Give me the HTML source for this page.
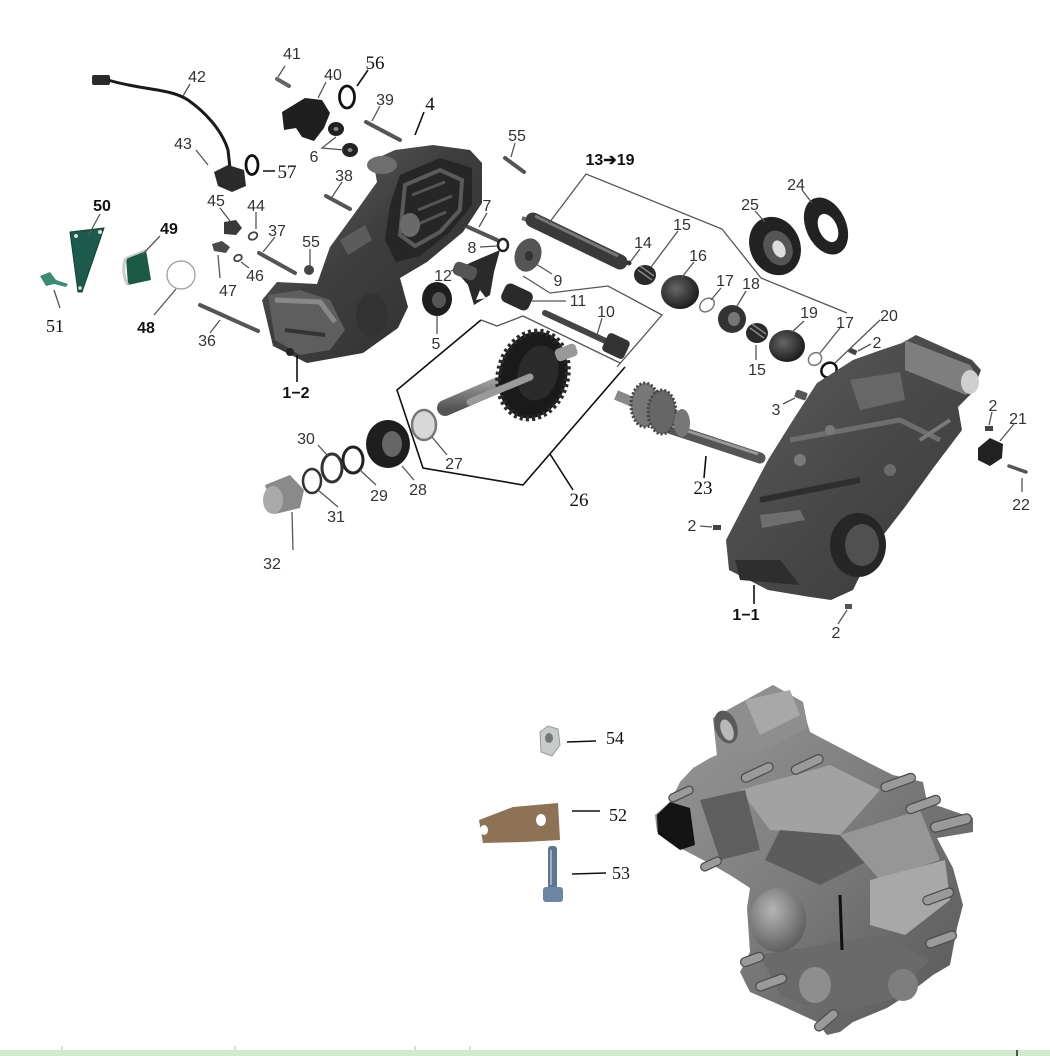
<!DOCTYPE html>
<html><head><meta charset="utf-8">
<style>
html,body{margin:0;padding:0;background:#fff;}
body{width:1050px;height:1056px;overflow:hidden;position:relative;}
svg{position:absolute;left:0;top:0;}
text{font-family:"Liberation Sans",sans-serif;font-size:16px;fill:#333;text-anchor:middle;}
.b{fill:#111;font-family:"Liberation Serif",serif;font-size:19px;}
.bb{fill:#111;font-weight:bold;font-size:16px;}
.ld{stroke:#555;stroke-width:1.3;fill:none;}
.lk{stroke:#111;stroke-width:1.6;fill:none;}
</style></head>
<body>
<svg width="1050" height="1056" viewBox="0 0 1050 1056" xmlns="http://www.w3.org/2000/svg">
<defs>
<linearGradient id="metal" x1="0" y1="0" x2="1" y2="1">
<stop offset="0" stop-color="#6a6a6a"/><stop offset="0.45" stop-color="#3e3e3e"/><stop offset="1" stop-color="#2e2e2e"/></linearGradient>
<linearGradient id="case1" x1="0" y1="0" x2="1" y2="1">
<stop offset="0" stop-color="#5e5e5e"/><stop offset="0.5" stop-color="#484848"/><stop offset="1" stop-color="#383838"/></linearGradient>
<linearGradient id="asm" x1="0" y1="0" x2="1" y2="1">
<stop offset="0" stop-color="#9a9a9a"/><stop offset="0.5" stop-color="#7c7c7c"/><stop offset="1" stop-color="#555"/></linearGradient>
<linearGradient id="shaft" x1="0" y1="0" x2="0" y2="1">
<stop offset="0" stop-color="#bbb"/><stop offset="0.5" stop-color="#888"/><stop offset="1" stop-color="#555"/></linearGradient>
<radialGradient id="disc" cx="0.4" cy="0.4" r="0.6">
<stop offset="0" stop-color="#666"/><stop offset="1" stop-color="#1e1e1e"/></radialGradient>
<radialGradient id="boss" cx="0.4" cy="0.35" r="0.7">
<stop offset="0" stop-color="#b5b5b5"/><stop offset="1" stop-color="#5a5a5a"/></radialGradient>
</defs>

<rect x="0" y="1050" width="1050" height="6" fill="#d3ead1"/>
<path d="M62,1046V1050M235,1046V1050M415,1046V1050M470,1046V1050" stroke="#bbb"/>
<line x1="1017" y1="1050" x2="1017" y2="1056" stroke="#222" stroke-width="1.5"/>

<!-- wire 42 and sensor -->
<rect x="92" y="75" width="18" height="10" rx="2" fill="#2a2a2a"/>
<path d="M108,80 C140,90 170,88 188,100 C205,112 222,130 228,150 L230,168" stroke="#1a1a1a" stroke-width="3" fill="none"/>
<path d="M214,172 L228,165 L244,170 L246,186 L232,192 L218,186 Z" fill="#2a2a2a"/>
<line x1="277" y1="79" x2="289" y2="86" stroke="#666" stroke-width="4" stroke-linecap="round"/>
<path d="M282,112 L305,98 L322,100 L330,113 L324,128 L314,141 L302,137 L296,128 L284,130 Z" fill="#1f1f1f"/>
<ellipse cx="347" cy="97" rx="7.5" ry="11" fill="none" stroke="#111" stroke-width="2.8"/>
<ellipse cx="252" cy="165" rx="6" ry="9.5" fill="none" stroke="#111" stroke-width="2.8"/>
<ellipse cx="336" cy="129" rx="8" ry="7" fill="#222"/><ellipse cx="336" cy="129" rx="2.5" ry="2" fill="#888"/>
<ellipse cx="350" cy="150" rx="8" ry="7" fill="#222"/><ellipse cx="350" cy="150" rx="2.5" ry="2" fill="#888"/>
<g stroke="#555" stroke-width="4" stroke-linecap="round">
<line x1="366" y1="122" x2="400" y2="140"/>
<line x1="326" y1="196" x2="350" y2="209"/>
<line x1="259" y1="253" x2="295" y2="273"/>
<line x1="200" y1="305" x2="258" y2="331"/>
<line x1="505" y1="158" x2="524" y2="172"/>
<line x1="468" y1="227" x2="497" y2="240"/>
</g>
<ellipse cx="309" cy="270" rx="5" ry="5" fill="#444"/>
<path d="M224,222 L236,220 L242,228 L236,235 L224,234 Z" fill="#3a3a3a"/>
<path d="M212,244 L222,241 L230,247 L226,253 L214,251 Z" fill="#4a4a4a"/>
<ellipse cx="253" cy="236" rx="4.5" ry="3.5" fill="none" stroke="#444" stroke-width="1.8" transform="rotate(-30 253 236)"/>
<ellipse cx="238" cy="258" rx="4" ry="3" fill="none" stroke="#444" stroke-width="1.8" transform="rotate(-30 238 258)"/>
<!-- 50 49 48 51 -->
<path d="M70,232 L104,228 L82,292 L78,292 Z" fill="#1c5b4c" stroke="#144035" stroke-width="1"/>
<circle cx="76" cy="236" r="2" fill="#ddd"/><circle cx="100" cy="232" r="2" fill="#ddd"/><circle cx="80" cy="288" r="1.8" fill="#ddd"/>
<path d="M126,258 L146,250 L151,280 L128,285 Z" fill="#1a5a44"/>
<path d="M126,258 C122,266 124,280 128,285" stroke="#ccc" stroke-width="3" fill="none"/>
<path d="M126,258 L146,250" stroke="#ccc" stroke-width="2"/>
<circle cx="181" cy="275" r="14" fill="none" stroke="#999" stroke-width="1.2"/>
<path d="M40,276 L50,272 L56,280 L68,284 L66,287 L54,284 L46,286 Z" fill="#3a8a74"/>

<!-- case 1-2 -->
<path d="M373,160 L395,150 L433,145 L470,150 L482,163 L482,203 L463,232 L427,262 L400,278 L408,307 L398,328 L363,353 L307,363 L273,346 L262,300 L277,282 L317,284 L330,247 L357,210 L377,182 Z" fill="url(#metal)"/>
<path d="M400,175 L440,158 L472,168 L472,205 L450,232 L420,256 L396,262 L385,240 L390,205 Z" fill="#262626"/>
<path d="M405,185 L440,170 L462,180 L460,210 L440,232 L415,246 L400,235 Z" fill="none" stroke="#5a5a5a" stroke-width="4"/>
<path d="M412,195 L445,182 M418,210 L452,196 M416,225 L446,212" stroke="#555" stroke-width="3"/>
<ellipse cx="410" cy="225" rx="10" ry="12" fill="#6a6a6a"/>
<ellipse cx="382" cy="165" rx="15" ry="9" fill="#6e6e6e"/>
<path d="M340,240 L365,225 L372,240 L348,255 Z" fill="#5c5c5c"/>
<path d="M268,295 L300,290 L330,300 L345,330 L330,350 L300,355 L275,340 Z" fill="#5e5e5e"/>
<path d="M275,300 L320,302 L335,322" stroke="#888" stroke-width="5" fill="none"/>
<path d="M285,330 L325,335" stroke="#333" stroke-width="4"/>
<ellipse cx="372" cy="315" rx="16" ry="22" fill="#333"/>
<circle cx="290" cy="352" r="4" fill="#222"/>

<!-- shaft 13 group -->
<path d="M522,218 L533,222" stroke="#666" stroke-width="4"/>
<path d="M533,220 L620,262" stroke="#3a3a3a" stroke-width="15" stroke-linecap="round"/>
<path d="M535,216 L618,256" stroke="#777" stroke-width="3"/>
<circle cx="629" cy="263" r="2.5" fill="#333"/>
<ellipse cx="645" cy="275" rx="11" ry="10" fill="#2a2a2a"/>
<path d="M638,270 L652,280 M640,266 L654,276" stroke="#888" stroke-width="1.5"/>
<ellipse cx="680" cy="292" rx="19" ry="17" fill="url(#disc)"/>
<ellipse cx="707" cy="305" rx="8" ry="6" fill="none" stroke="#777" stroke-width="1.5" transform="rotate(-40 707 305)"/>
<ellipse cx="732" cy="319" rx="14" ry="14" fill="#333"/><ellipse cx="734" cy="319" rx="6" ry="7" fill="#777"/>
<ellipse cx="757" cy="333" rx="11" ry="10" fill="#2a2a2a"/>
<path d="M750,328 L764,338 M752,324 L766,334" stroke="#888" stroke-width="1.5"/>
<ellipse cx="787" cy="346" rx="18" ry="16" fill="url(#disc)"/>
<ellipse cx="815" cy="359" rx="7" ry="6" fill="none" stroke="#777" stroke-width="1.5" transform="rotate(-40 815 359)"/>
<ellipse cx="829" cy="370" rx="8" ry="7" fill="none" stroke="#111" stroke-width="2.5" transform="rotate(-40 829 370)"/>
<rect x="849" y="349" width="8" height="5" fill="#444" transform="rotate(25 853 351)"/>
<ellipse cx="775" cy="246" rx="25" ry="30" fill="#222" transform="rotate(-25 775 246)"/>
<ellipse cx="778" cy="248" rx="14" ry="18" fill="#555" transform="rotate(-25 778 248)"/>
<ellipse cx="779" cy="249" rx="6" ry="9" fill="#ddd" transform="rotate(-25 779 249)"/>
<ellipse cx="826" cy="226" rx="20" ry="30" fill="#222" transform="rotate(-25 826 226)"/>
<ellipse cx="828" cy="228" rx="9" ry="15" fill="#fff" transform="rotate(-25 828 228)"/>
<ellipse cx="528" cy="255" rx="13" ry="17" fill="#555" transform="rotate(20 528 255)"/>
<ellipse cx="529" cy="256" rx="4" ry="5" fill="#333"/>
<ellipse cx="503" cy="245" rx="5" ry="6" fill="none" stroke="#222" stroke-width="2.5"/>
<path d="M455,270 L472,262 L500,250 L494,272 L490,295 L474,305 L468,285 Z" fill="#2a2a2a"/>
<rect x="453" y="264" width="24" height="14" rx="5" fill="#555" transform="rotate(20 465 271)"/>
<path d="M476,300 L480,290 L486,298 Z" fill="#fff"/>
<ellipse cx="437" cy="299" rx="15" ry="17" fill="#1e1e1e"/><ellipse cx="439" cy="300" rx="7" ry="8" fill="#555"/>
<rect x="502" y="287" width="30" height="20" rx="6" fill="#2a2a2a" transform="rotate(25 517 297)"/>
<path d="M545,313 L610,343" stroke="#444" stroke-width="6" stroke-linecap="round"/>
<rect x="604" y="336" width="24" height="20" rx="4" fill="#333" transform="rotate(25 616 346)"/>

<!-- 26 gear and shaft -->
<path d="M445,408 L533,370" stroke="url(#shaft)" stroke-width="16" stroke-linecap="round"/>
<ellipse cx="533" cy="375" rx="34" ry="44" fill="#1a1a1a" stroke="#2a2a2a" stroke-width="6" stroke-dasharray="3 3" transform="rotate(15 533 375)"/>
<ellipse cx="538" cy="373" rx="20" ry="28" fill="#2b2b2b" transform="rotate(15 538 373)"/>
<rect x="555" y="346" width="22" height="13" rx="4" fill="#999" transform="rotate(-20 566 352)"/>
<path d="M470,402 L530,377" stroke="#9a9a9a" stroke-width="7" stroke-linecap="round"/>
<ellipse cx="424" cy="425" rx="12" ry="15" fill="#d8d8d8" stroke="#777" stroke-width="2.5"/>
<ellipse cx="388" cy="444" rx="22" ry="24" fill="#1e1e1e"/>
<ellipse cx="392" cy="444" rx="10" ry="13" fill="#666"/>
<ellipse cx="353" cy="460" rx="10" ry="13" fill="none" stroke="#222" stroke-width="3"/>
<ellipse cx="332" cy="468" rx="10" ry="14" fill="none" stroke="#333" stroke-width="3"/>
<ellipse cx="312" cy="481" rx="9" ry="12" fill="none" stroke="#333" stroke-width="2.5"/>
<path d="M265,485 L290,475 L304,490 L300,508 L275,514 Z" fill="#8a8a8a"/>
<ellipse cx="273" cy="500" rx="10" ry="14" fill="#aaa"/>

<!-- 23 gear shaft -->
<path d="M660,425 L760,458" stroke="#555" stroke-width="11" stroke-linecap="round"/>
<path d="M660,422 L758,454" stroke="#999" stroke-width="3"/>
<path d="M616,395 L640,405" stroke="#888" stroke-width="10"/>
<ellipse cx="645" cy="405" rx="14" ry="22" fill="#777" stroke="#444" stroke-width="3" stroke-dasharray="2 2"/>
<ellipse cx="662" cy="412" rx="14" ry="22" fill="#666" stroke="#444" stroke-width="3" stroke-dasharray="2 2"/>
<ellipse cx="682" cy="423" rx="8" ry="14" fill="#777"/>
<rect x="795" y="391" width="12" height="8" rx="2" fill="#555" transform="rotate(20 801 395)"/>
<rect x="985" y="426" width="8" height="5" fill="#444"/>
<rect x="713" y="525" width="8" height="5" fill="#444"/>
<rect x="845" y="604" width="7" height="5" fill="#555"/>
<path d="M978,448 L990,438 L1003,444 L1002,458 L990,466 L978,460 Z" fill="#222"/>
<line x1="1009" y1="466" x2="1026" y2="472" stroke="#555" stroke-width="3.5" stroke-linecap="round"/>

<!-- case 1-1 -->
<path d="M902,343 L916,335 L972,360 L981,370 L972,393 L958,407 L962,430 L934,467 L905,507 L874,547 L853,590 L831,600 L810,597 L768,590 L729,570 L726,540 L740,513 L768,460 L793,420 L817,383 L853,360 L881,350 Z" fill="url(#case1)"/>
<path d="M905,340 L970,365 L978,378 L966,395 L905,370 Z" fill="#7e7e7e"/>
<ellipse cx="970" cy="382" rx="9" ry="12" fill="#cfcfcf"/>
<path d="M850,380 L900,372 L905,400 L860,410 Z" fill="#676767"/>
<path d="M790,440 L900,420 L940,440" stroke="#6e6e6e" stroke-width="5" fill="none"/>
<path d="M760,500 L860,480" stroke="#2e2e2e" stroke-width="6"/>
<path d="M760,515 L800,510 L805,520 L762,528" fill="#6e6e6e"/>
<ellipse cx="858" cy="545" rx="28" ry="32" fill="#262626"/>
<ellipse cx="862" cy="545" rx="17" ry="21" fill="#505050"/>
<path d="M735,560 L780,560 L800,585 L740,580 Z" fill="#2e2e2e"/>
<circle cx="800" cy="460" r="6" fill="#7a7a7a"/><circle cx="830" cy="430" r="5" fill="#7a7a7a"/><circle cx="890" cy="470" r="6" fill="#6a6a6a"/>
<path d="M920,440 L950,420" stroke="#7a7a7a" stroke-width="4"/>

<!-- brackets and leaders -->
<polyline class="lk" points="625,367 523,485 423,468 397,390 481,320"/>
<polyline class="ld" points="481,320 497,326 523,316 620,363"/>
<polyline class="ld" points="523,276 550,293 608,286 662,315 617,367"/>
<polyline class="ld" points="549,223 586,174 722,229 761,278 847,313"/>
<path class="lk" d="M550,454L573,490M706,456L704,478M754,585L754,604M297,355L297,382M415,135L424,112M357,86L368,70M263,171L275,171M567,742L596,741M572,811L600,811M572,874L606,873"/>
<path class="ld" d="M285,66L278,77M190,84L183,96M326,82L318,98M380,106L372,121M196,150L208,165M336,137L322,148L344,150M342,182L332,197M220,208L230,221M256,212L256,229M275,237L263,252M310,249L310,265M218,255L220,278M241,262L249,268M154,315L176,289M210,333L220,320M100,214L88,236M160,236L142,255M60,308L54,290M515,143L511,157M487,213L479,227M480,247L497,246M451,271L463,266M437,334L437,316M552,274L536,264M532,301L566,301M602,318L597,335M640,249L631,261M678,231L651,267M694,262L682,277M721,288L711,300M746,291L737,306M804,321L792,332M840,328L820,353M880,320L835,363M871,344L858,351M756,360L756,345M783,404L795,398M992,412L989,425M1014,424L1000,441M1022,478L1022,492M700,526L712,527M838,624L847,610M293,550L292,512M802,190L812,203M755,211L765,222M318,445L328,456M338,507L318,490M376,485L360,470M414,480L402,466M447,455L432,437"/>

<!-- 54 52 53 -->
<path d="M540,732 L548,726 L558,729 L560,745 L552,756 L541,752 Z" fill="#c8ccc8" stroke="#999" stroke-width="1"/>
<ellipse cx="549" cy="738" rx="4" ry="5" fill="#777"/>
<path d="M479,820 L513,807 L558,803 L560,840 L524,842 L483,843 Z" fill="#8d7256"/>
<ellipse cx="484" cy="830" rx="4" ry="5" fill="#fff"/>
<ellipse cx="541" cy="820" rx="5" ry="6" fill="#fff"/>
<rect x="548" y="846" width="9" height="44" rx="3" fill="#5f7591"/>
<rect x="543" y="887" width="20" height="15" rx="3" fill="#6b85a3"/>
<line x1="551" y1="850" x2="551" y2="885" stroke="#9ab0c8" stroke-width="2"/>

<!-- assembled transmission -->
<path d="M713,718 L773,685 L803,702 L807,722 L810,732 L873,765 L893,775 L923,782 L927,802 L973,818 L973,832 L937,838 L953,868 L963,905 L957,928 L950,965 L933,975 L907,995 L887,1008 L853,1022 L840,1032 L827,1035 L817,1022 L780,1005 L750,992 L740,972 L750,952 L747,908 L750,888 L730,875 L707,862 L680,848 L657,832 L655,815 L670,802 L680,782 L693,768 L710,758 L717,755 Z" fill="url(#asm)"/>
<path d="M713,718 L773,685 L803,702 L807,728 L760,752 L717,755 Z" fill="#8e8e8e"/>
<path d="M745,700 L790,690 L800,715 L760,735 Z" fill="#a8a8a8"/>
<ellipse cx="726" cy="727" rx="11" ry="17" fill="#5a5a5a" transform="rotate(-20 726 727)"/>
<ellipse cx="727" cy="730" rx="6" ry="11" fill="#b8b8b8" transform="rotate(-20 727 730)"/>
<path d="M740,790 L830,765 L880,790 L840,835 L770,830 Z" fill="#a2a2a2"/>
<path d="M780,830 L840,835 L870,860 L820,885 L765,860 Z" fill="#5c5c5c"/>
<path d="M840,835 L920,810 L940,860 L880,880 Z" fill="#969696"/>
<path d="M870,880 L945,860 L950,900 L905,935 L870,925 Z" fill="#a8a8a8"/>
<path d="M700,800 L745,790 L760,850 L720,860 Z" fill="#5e5e5e"/>
<ellipse cx="778" cy="920" rx="28" ry="32" fill="url(#boss)"/>
<path d="M760,955 L880,935 L930,960 L890,1000 L830,1015 L780,995 Z" fill="#6a6a6a"/>
<ellipse cx="815" cy="985" rx="16" ry="18" fill="#8e8e8e"/>
<ellipse cx="903" cy="985" rx="15" ry="16" fill="#7e7e7e"/>
<path d="M657,815 L670,802 L690,808 L695,845 L680,850 L658,834 Z" fill="#141414"/>
<path d="M840,895 L842,950" stroke="#111" stroke-width="3"/>
<g fill="#9a9a9a" stroke="#4a4a4a" stroke-width="1.2">
<rect x="740" y="768" width="34" height="9" rx="4.5" transform="rotate(-25 757 772)"/>
<rect x="790" y="760" width="34" height="9" rx="4.5" transform="rotate(-25 807 764)"/>
<rect x="880" y="778" width="36" height="9" rx="4.5" transform="rotate(-20 898 782)"/>
<rect x="905" y="800" width="36" height="9" rx="4.5" transform="rotate(-20 923 804)"/>
<rect x="930" y="818" width="42" height="10" rx="5" transform="rotate(-15 951 823)"/>
<rect x="922" y="892" width="32" height="9" rx="4.5" transform="rotate(-20 938 896)"/>
<rect x="925" y="935" width="32" height="9" rx="4.5" transform="rotate(-20 941 939)"/>
<rect x="740" y="955" width="24" height="9" rx="4.5" transform="rotate(-20 752 959)"/>
<rect x="755" y="978" width="32" height="9" rx="4.5" transform="rotate(-20 771 982)"/>
<rect x="812" y="1016" width="28" height="9" rx="4.5" transform="rotate(-40 826 1020)"/>
<rect x="668" y="790" width="26" height="8" rx="4" transform="rotate(-25 681 794)"/>
<rect x="700" y="860" width="22" height="8" rx="4" transform="rotate(-25 711 864)"/>
</g>

<!-- labels -->
<text x="292" y="59">41</text>
<text x="197" y="82">42</text>
<text class="b" x="375" y="69">56</text>
<text x="333" y="80">40</text>
<text x="385" y="105">39</text>
<text class="b" x="430" y="110">4</text>
<text x="183" y="149">43</text>
<text class="b" x="287" y="178">57</text>
<text x="314" y="162">6</text>
<text x="344" y="181">38</text>
<text x="517" y="141">55</text>
<text class="bb" x="610" y="165">13➔19</text>
<text x="796" y="190">24</text>
<text x="750" y="210">25</text>
<text class="bb" x="102" y="211">50</text>
<text class="bb" x="169" y="234">49</text>
<text x="216" y="206">45</text>
<text x="256" y="211">44</text>
<text x="277" y="236">37</text>
<text x="311" y="247">55</text>
<text x="487" y="211">7</text>
<text x="472" y="253">8</text>
<text x="682" y="230">15</text>
<text x="643" y="248">14</text>
<text x="698" y="261">16</text>
<text x="558" y="286">9</text>
<text x="725" y="286">17</text>
<text x="751" y="289">18</text>
<text x="443" y="281">12</text>
<text x="578" y="306">11</text>
<text x="606" y="317">10</text>
<text x="228" y="296">47</text>
<text x="255" y="281">46</text>
<text class="b" x="55" y="332" style="font-size:18px">51</text>
<text class="bb" x="146" y="333">48</text>
<text x="207" y="346">36</text>
<text x="436" y="349">5</text>
<text x="809" y="318">19</text>
<text x="845" y="328">17</text>
<text x="889" y="321">20</text>
<text x="877" y="348">2</text>
<text x="757" y="375">15</text>
<text class="bb" x="296" y="398">1−2</text>
<text x="776" y="415">3</text>
<text x="993" y="411">2</text>
<text x="1018" y="424">21</text>
<text x="306" y="444">30</text>
<text x="454" y="469">27</text>
<text x="418" y="495">28</text>
<text x="379" y="501">29</text>
<text x="336" y="522">31</text>
<text class="b" x="703" y="494">23</text>
<text class="b" x="579" y="506">26</text>
<text x="1021" y="510">22</text>
<text x="692" y="531">2</text>
<text x="272" y="569">32</text>
<text class="bb" x="746" y="620">1−1</text>
<text x="836" y="638">2</text>
<text class="b" x="615" y="744" style="font-size:18px">54</text>
<text class="b" x="618" y="821" style="font-size:18px">52</text>
<text class="b" x="621" y="879" style="font-size:18px">53</text>
</svg>
</body></html>
